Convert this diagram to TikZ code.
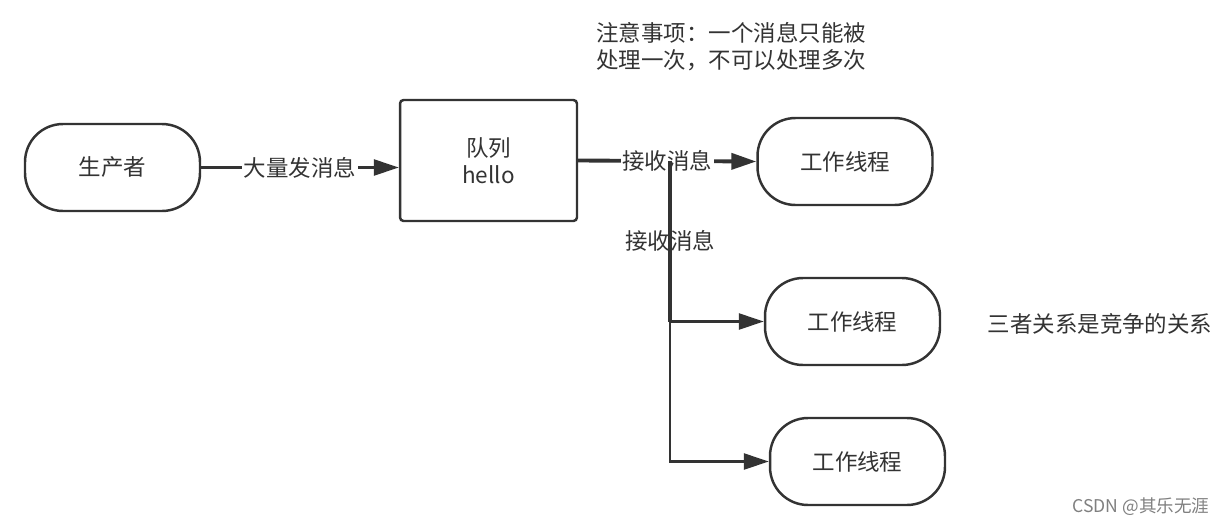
\documentclass[tikz,border=0pt]{standalone}
\usepackage{fontspec}
\setmainfont{Noto Sans CJK SC}
\usetikzlibrary{arrows.meta,positioning}
\newcommand\cnfont{\fontsize{12.8}{15.5}\selectfont}
\colorlet{ink}{black!80}
\tikzset{workerbox/.style={
            draw=ink,
            line width=1.4pt,
            rounded corners=0.76cm,
            minimum width=3.5cm,
            minimum height=1.74cm,
            font=\cnfont,
            text=ink
        },
        queuebox/.style={
            draw=ink,
            line width=1.4pt,
            rounded corners=2pt,
            minimum width=3.54cm,
            minimum height=2.42cm,
            align=center,
            font=\cnfont,
            text=ink
        },
        msg/.style={
            fill=white,
            inner sep=1pt,
            font=\cnfont,
            text=ink
        },
        flow/.style={
            draw=ink,
            line width=1.4pt,
            -{Triangle[length=0.5cm,width=0.32cm]}
        },
        thickflow/.style={
            flow,
            line width=2.2pt
        }
    }

\begin{document}
\begin{tikzpicture}[x=0.02cm,y=-0.02cm]
        \fill[white] (0,0) rectangle (1225,525);
        \useasboundingbox (0,0) rectangle (1225,525);

        \node[workerbox] at (112.5,167.5) (producer) {生产者};
        \node[queuebox] at (488.5,160.5) (queue) {队列\\hello};
        \node[workerbox] at (845,161.5) (w1) {工作线程};
        \node[workerbox] at (852.5,321.5) (w2) {工作线程};
        \node[workerbox] at (857.5,461.5) (w3) {工作线程};
        \coordinate (split) at (670,160.5);

        % notes
        \node[font=\cnfont, text=ink, align=left, anchor=west] at (590,47) (note) {注意事项：一个消息只能被\\处理一次，不可以处理多次};
        \node[font=\cnfont, text=ink] at (1100,324) (relation) {三者关系是竞争的关系};
        \node[font=\fontsize{10}{12}\selectfont, text=black!50] at (1141,507) (mark) {CSDN @其乐无涯};

        % connectors
        \draw[flow] (producer.east) -- node[msg] {大量发消息} (producer.east -| queue.west);
        \draw[thickflow] (queue.east) -- node[msg] {接收消息} (w1.west);
        \path (split) -- node[msg] {接收消息} (split |- w2.west);
        \draw[ink, line width=2.2pt] (split) -- (split |- w2.west);
        \draw[flow] (split |- w2.west) -- (w2.west);
        \draw[flow, rounded corners=0pt] (split |- w2.west) -- (split |- w3.west) -- (w3.west);

    \end{tikzpicture}
\end{document}
